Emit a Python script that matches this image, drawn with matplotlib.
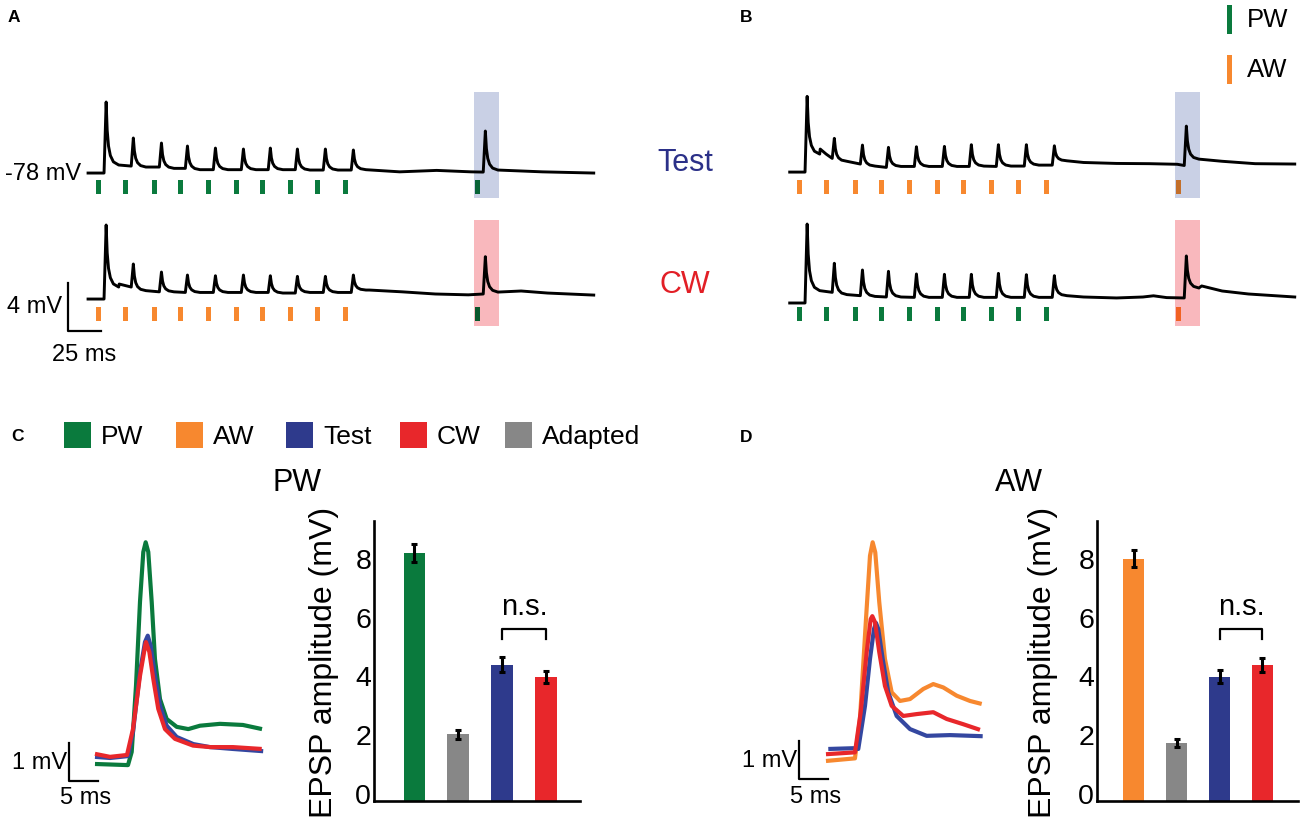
import numpy as np
import matplotlib
matplotlib.use("Agg")
import matplotlib.pyplot as plt
from matplotlib.colors import to_rgb
from matplotlib.patches import Rectangle

plt.rcParams['font.family'] = ['Liberation Sans', 'DejaVu Sans']

W, H = 1300, 820

# ---------------- data ----------------
# stimulus times of the train (10 deflections) and of the test deflection, ms
STIM_TIMES = [0.0, 20.6, 41.9, 61.6, 82.8, 104.0, 124.4, 144.9, 166.1, 187.3, 287.3]

# A, top row: PW train, PW test  (mV relative to resting level)
A_TOP_PEAKS = [5.92, 2.92, 2.50, 2.25, 2.08, 2.00, 2.08, 2.00, 2.00, 1.92, 3.50]
A_TOP_PRE = [0.00, 0.58, 0.50, 0.39, 0.28, 0.28, 0.28, 0.28, 0.25, 0.25, 0.08]
A_TOP_POST = [0.67, 0.50, 0.39, 0.28, 0.28, 0.28, 0.28, 0.25, 0.25, 0.28, 0.25]
A_TOP_EXTRA = [(228.0, 0.10), (256.0, 0.22), (282.0, 0.10), (336.0, 0.10)]

# A, bottom row: AW train, PW test
A_BOT_PEAKS = [6.17, 2.92, 2.25, 2.00, 1.94, 2.00, 1.94, 1.89, 1.89, 2.00, 3.53]
A_BOT_PRE = [0.00, 1.00, 0.60, 0.55, 0.55, 0.55, 0.55, 0.50, 0.55, 0.55, 0.42]
A_BOT_POST = [1.00, 0.70, 0.60, 0.55, 0.55, 0.55, 0.50, 0.55, 0.55, 0.75, 0.58]
A_BOT_EXTRA = [(15.5, 1.25), (205.0, 0.75), (230.0, 0.60), (255.0, 0.42), (280.0, 0.35),
               (320.0, 0.67), (340.0, 0.50)]

# B, top row: AW train, AW test
B_TOP_PEAKS = [6.31, 2.81, 2.25, 2.06, 2.11, 2.14, 2.28, 2.28, 2.28, 2.19, 3.83]
B_TOP_PRE = [0.00, 1.14, 0.67, 0.39, 0.47, 0.47, 0.47, 0.47, 0.50, 0.58, 0.55]
B_TOP_POST = [1.50, 0.90, 0.50, 0.47, 0.47, 0.47, 0.50, 0.50, 0.58, 0.94, 1.08]
B_TOP_EXTRA = [(15.5, 1.92), (20.0, 1.50), (215.0, 0.80), (240.0, 0.72), (265.0, 0.70),
               (286.0, 0.65), (320.0, 0.90), (345.0, 0.70)]

# B, bottom row: PW train, AW test
B_BOT_PEAKS = [6.58, 3.31, 2.75, 2.64, 2.42, 2.39, 2.39, 2.47, 2.36, 2.28, 3.92]
B_BOT_PRE = [0.00, 0.89, 0.61, 0.50, 0.47, 0.47, 0.47, 0.47, 0.47, 0.47, 0.42]
B_BOT_POST = [1.03, 0.70, 0.55, 0.50, 0.47, 0.47, 0.47, 0.47, 0.47, 0.61, 1.25]
B_BOT_EXTRA = [(215.0, 0.50), (240.0, 0.42), (260.0, 0.50), (268.0, 0.60), (278.0, 0.45),
               (304.5, 1.42), (320.0, 1.00), (340.0, 0.75)]

# C, averaged PW responses (ms, mV)
C_T_PW = [0, 5.69, 6.33, 7.07, 7.76, 8.33, 8.74, 9.19, 9.78, 10.34, 11.21, 12.36, 14.09, 16.09, 18.1, 21.55, 25.5, 28.8]
C_V_PW = [0, -0.03, 0.32, 2.08, 4.32, 5.65, 5.91, 5.65, 4.32, 2.8, 1.73, 1.2, 0.99, 0.93, 1.02, 1.07, 1.04, 0.93]
C_T_TEST = [0, 2.59, 5.69, 6.55, 7.76, 8.62, 9.1, 9.6, 10.34, 11.21, 12.36, 14.09, 16.97, 19.83, 23.8, 29.0]
C_V_TEST = [0.19, 0.16, 0.21, 0.85, 2.45, 3.25, 3.42, 3.15, 2.35, 1.55, 1.02, 0.72, 0.53, 0.45, 0.4, 0.34]
C_T_CW = [0, 2.59, 5.52, 6.55, 7.76, 8.62, 8.79, 9.37, 10.05, 10.91, 12.07, 13.79, 16.9, 19.83, 23.8, 28.75]
C_V_CW = [0.27, 0.19, 0.24, 0.93, 2.35, 3.12, 3.25, 2.99, 2.27, 1.47, 0.93, 0.67, 0.49, 0.45, 0.45, 0.4]

# D, averaged AW responses (ms, mV)
D_T_AW = [0.17, 5.17, 6.03, 7.07, 7.76, 8.22, 8.67, 9.36, 10.34, 11.5, 12.93, 14.66, 16.95, 18.67, 20.4, 22.71, 25.0, 27.02]
D_V_AW = [0.03, 0.10, 1.15, 3.81, 5.50, 5.86, 5.59, 4.26, 2.75, 1.86, 1.63, 1.68, 1.95, 2.08, 1.99, 1.77, 1.63, 1.55]
D_T_TEST = [0.57, 4.88, 5.74, 6.9, 7.76, 8.45, 8.79, 9.19, 9.95, 10.91, 12.36, 14.66, 17.53, 21.55, 27.19]
D_V_TEST = [0.35, 0.37, 0.35, 1.5, 2.75, 3.55, 3.71, 3.55, 2.75, 1.86, 1.23, 0.88, 0.70, 0.72, 0.69]
D_T_CW = [0.17, 5.17, 6.16, 7.19, 7.88, 8.16, 8.62, 9.36, 10.34, 11.5, 13.5, 15.81, 18.67, 20.98, 23.84, 26.72]
D_V_CW = [0.21, 0.26, 1.33, 2.93, 3.81, 3.89, 3.73, 2.93, 2.03, 1.50, 1.23, 1.28, 1.33, 1.15, 1.01, 0.86]

# EPSP amplitude bars: first, Adapted, Test, CW
C_MEANS = [8.16, 2.00, 4.36, 3.95]
C_ERR = [0.30, 0.15, 0.25, 0.20]
D_MEANS = [7.96, 1.70, 3.95, 4.35]
D_ERR = [0.29, 0.14, 0.22, 0.25]

# ---------------- style ----------------
GREEN = '#0a7a3d'
ORANGE = '#f7882f'
BLUE = '#2e3a8c'
TRACE_BLUE = '#3447a0'
RED = '#e8272b'
GRAY = '#878787'
BOX_BLUE = '#c9d0e5'
BOX_RED = '#f9b8bd'
TEXT_BLUE = '#2b3088'
TEXT_RED = '#e21f26'

ONSET, RISE = 4.0, 1.6
DECAY_T = [0.8, 1.8, 3.2, 5.5, 9.5]
DECAY_F = [0.55, 0.3, 0.15, 0.05, 0.0]

fig = plt.figure(figsize=(W / 100, H / 100), dpi=100)


def px_axes(x0, y0, x1, y1, **kw):
    return fig.add_axes([x0 / W, 1 - y1 / H, (x1 - x0) / W, (y1 - y0) / H], **kw)


def multiply(c1, c2):
    return tuple(a * b for a, b in zip(to_rgb(c1), to_rgb(c2)))


def trace_points(peaks, pre, post, extra, t_start, t_end, v_end):
    pts = [(t_start, pre[0])]
    for ts, pk, v0, v1 in zip(STIM_TIMES, peaks, pre, post):
        pts.append((ts + ONSET, v0))
        pts.append((ts + ONSET + RISE, pk))
        for dt, f in zip(DECAY_T, DECAY_F):
            pts.append((ts + ONSET + RISE + dt, v1 + (pk - v1) * f))
    pts += extra
    pts.append((t_end, v_end))
    pts.sort()
    t, v = zip(*pts)
    return np.array(t), np.array(v)


def draw_train_panel(ax, rows, train_cols, test_cols):
    ax.set_xlim(-29.36, 379.0)
    ax.set_ylim(-13.83, 7.42)
    ax.axis('off')
    ax.add_patch(Rectangle((284.5, -2.08), 18.5, 8.83, color=BOX_BLUE, lw=0, zorder=0))
    ax.add_patch(Rectangle((284.5, -12.75), 18.5, 8.83, color=BOX_RED, lw=0, zorder=0))
    boxes = [BOX_BLUE, BOX_RED]
    tick_bottoms = [-1.75, -12.33]
    for i, (row, offset) in enumerate(rows):
        t, v = trace_points(*row)
        ax.plot(t, v + offset, color='k', lw=2.1, solid_joinstyle='round', zorder=3)
        ax.bar(STIM_TIMES[:10], 1.17, bottom=tick_bottoms[i], width=3.8,
               color=train_cols[i], zorder=2)
        ax.bar(STIM_TIMES[10:], 1.17, bottom=tick_bottoms[i], width=3.8,
               color=multiply(test_cols[i], boxes[i]), zorder=2)


# ---------------- panel A ----------------
axA = px_axes(60, 85, 599, 340)
draw_train_panel(axA,
                 [((A_TOP_PEAKS, A_TOP_PRE, A_TOP_POST, A_TOP_EXTRA, -8.1, 375.0, 0.0), 0.0),
                  ((A_BOT_PEAKS, A_BOT_PRE, A_BOT_POST, A_BOT_EXTRA, -8.1, 375.0, 0.33), -10.5)],
                 [GREEN, ORANGE], [GREEN, GREEN])
axA.text(-13.4, 0.0, '-78 mV', ha='right', va='center', fontsize=17)
axA.plot([-23.3, -23.3, 1.7], [-9.17, -13.17, -13.17], color='k', lw=1.6, clip_on=False)
axA.text(-27.5, -11.1, '4 mV', ha='right', va='center', fontsize=17)
axA.text(-11.2, -14.2, '25 ms', ha='center', va='top', fontsize=17)

# ---------------- panel B ----------------
axB = px_axes(761, 85, 1300, 340)
draw_train_panel(axB,
                 [((B_TOP_PEAKS, B_TOP_PRE, B_TOP_POST, B_TOP_EXTRA, -7.6, 375.0, 0.67), 0.08),
                  ((B_BOT_PEAKS, B_BOT_PRE, B_BOT_POST, B_BOT_EXTRA, -7.6, 375.0, 0.50), -10.83)],
                 [ORANGE, GREEN], [ORANGE, ORANGE])


# ---------------- C / D traces ----------------
def draw_avg_traces(ax, curves, ylim):
    ax.set_xlim(-9.48, 31.9)
    ax.set_ylim(*ylim)
    ax.axis('off')
    for t, v, c in curves:
        ax.plot(t, v, color=c, lw=3.0, solid_capstyle='butt', solid_joinstyle='round')
    ax.plot([-4.48, -4.48, 0.52], [0.55, -0.45, -0.45], color='k', lw=1.6)
    ax.text(-4.85, 0.05, '1 mV', ha='right', va='center', fontsize=17)
    ax.text(-1.6, -0.6, '5 ms', ha='center', va='top', fontsize=17)


axCt = px_axes(40, 520, 280, 810)
draw_avg_traces(axCt, [(C_T_PW, C_V_PW, GREEN), (C_T_TEST, C_V_TEST, TRACE_BLUE),
                       (C_T_CW, C_V_CW, RED)], (-1.2, 6.53))
axDt = px_axes(770, 520, 1010, 810)
draw_avg_traces(axDt, [(D_T_AW, D_V_AW, ORANGE), (D_T_TEST, D_V_TEST, TRACE_BLUE),
                       (D_T_CW, D_V_CW, RED)], (-1.25, 6.48))


# ---------------- C / D bars ----------------
def draw_bars(ax, means, errs, first_col, xlim, label_x):
    ylo = -0.27
    x = np.arange(len(means))
    ax.set_xlim(*xlim)
    ax.set_ylim(ylo, 9.25)
    ax.bar(x, np.array(means) - ylo, bottom=ylo, width=0.5,
           color=[first_col, GRAY, BLUE, RED], zorder=2)
    ax.errorbar(x, means, yerr=errs, fmt='none', ecolor='k', elinewidth=2.2,
                capsize=2.2, capthick=2.2, zorder=3)
    ax.plot([2, 2, 3, 3], [5.24, 5.58, 5.58, 5.24], color='k', lw=1.6)
    ax.text(2.5, 6.09, 'n.s.', ha='center', va='baseline', fontsize=21)
    for s in ['top', 'right']:
        ax.spines[s].set_visible(False)
    for s in ['left', 'bottom']:
        ax.spines[s].set_linewidth(1.9)
    ax.set_xticks([])
    ax.set_yticks([0, 2, 4, 6, 8])
    ax.tick_params(axis='y', length=0, pad=2, labelsize=20.5)
    ax.text(label_x, 0.5, 'EPSP amplitude (mV)', rotation=90, ha='center', va='center',
            fontsize=23, transform=ax.transAxes)


axCb = px_axes(374, 522, 580, 802)
draw_bars(axCb, C_MEANS, C_ERR, GREEN, (-0.924, 3.776), -0.243)
axDb = px_axes(1097, 522, 1298, 802)
draw_bars(axDb, D_MEANS, D_ERR, ORANGE, (-0.856, 3.83), -0.269)

# ---------------- labels and legends (figure pixels) ----------------
ov = fig.add_axes([0, 0, 1, 1], zorder=10)
ov.set_xlim(0, W)
ov.set_ylim(H, 0)
ov.axis('off')
ov.patch.set_alpha(0)

for letter, (lx, ly) in zip('ABCD', [(14, 18), (746, 17), (17, 437), (746, 438)]):
    ov.text(lx, ly, letter, ha='center', va='center', fontsize=12.5, fontweight='bold')

ov.text(685, 163, 'Test', color=TEXT_BLUE, ha='center', va='center', fontsize=22)
ov.text(685, 285, 'CW', color=TEXT_RED, ha='center', va='center', fontsize=22)

for name, col, yc in [('PW', GREEN, 20), ('AW', ORANGE, 70)]:
    ov.add_patch(Rectangle((1227, yc - 14), 5, 29, color=col, lw=0))
    ov.text(1247, yc, name, ha='left', va='center', fontsize=18.5)

legend_names = ['PW', 'AW', 'Test', 'CW', 'Adapted']
legend_cols = [GREEN, ORANGE, BLUE, RED, GRAY]
for name, col, x0 in zip(legend_names, legend_cols, [64, 176, 286, 400, 505]):
    ov.add_patch(Rectangle((x0, 423), 27, 26, color=col, lw=0))
    ov.text(x0 + 37, 437, name, ha='left', va='center', fontsize=19)

ov.text(297, 483, 'PW', ha='center', va='center', fontsize=22)
ov.text(1019, 483, 'AW', ha='center', va='center', fontsize=22)

fig.savefig('out.png', dpi=100)
